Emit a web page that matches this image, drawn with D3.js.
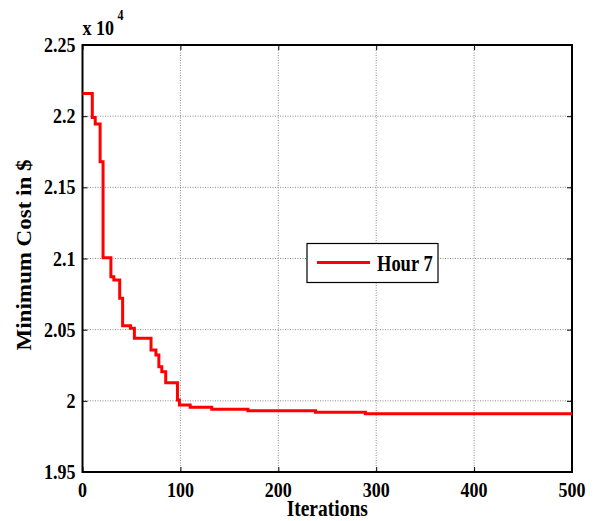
<!DOCTYPE html>
<html>
<head>
<meta charset="utf-8">
<script src="https://cdn.jsdelivr.net/npm/d3@7"></script>
<style>
  body { margin: 0; background: #fff; }
  svg text { font-family: "Liberation Serif", "Times New Roman", serif; font-weight: bold; fill: #000; }
</style>
</head>
<body>
<div id="chart"></div>
<script>
// best cost per iteration (step changes only)
var iterations = [0, 10, 13, 18, 21, 29, 32, 38, 41, 49, 53, 70, 75, 78, 81, 85, 97, 99, 110, 132, 169, 238, 289, 500];
var costs = [22160, 21990, 21945, 21680, 21005, 20872, 20849, 20720, 20528, 20510, 20439, 20357, 20322, 20240, 20205, 20127, 20006, 19971, 19955, 19941, 19931, 19920, 19910, 19910];
var xTicks = [0, 100, 200, 300, 400, 500];
var yTicks = [19500, 20000, 20500, 21000, 21500, 22000, 22500];
var yTickLabels = ["1.95", "2", "2.05", "2.1", "2.15", "2.2", "2.25"];
var seriesName = "Hour 7";

var width = 597, height = 521;
var pLeft = 82.5, pRight = 572, pTop = 45, pBottom = 472;
var sy = 1.15; // text in the source is a bit stretched vertically

var svg = d3.select("#chart").append("svg")
    .attr("width", width)
    .attr("height", height);

var x = d3.scaleLinear().domain([0, 500]).range([pLeft, pRight]);
var y = d3.scaleLinear().domain([19500, 22500]).range([pBottom, pTop]);

// dotted grid
var grid = svg.append("g").attr("class", "grid")
    .attr("stroke", "#8a8a8a").attr("stroke-width", 1).attr("stroke-dasharray", "1,1.5");
grid.selectAll(".gx").data(xTicks.slice(1, -1)).enter().append("line")
    .attr("x1", function(d){ return x(d); }).attr("x2", function(d){ return x(d); })
    .attr("y1", pTop).attr("y2", pBottom);
grid.selectAll(".gy").data(yTicks.slice(1, -1)).enter().append("line")
    .attr("x1", pLeft).attr("x2", pRight)
    .attr("y1", function(d){ return y(d); }).attr("y2", function(d){ return y(d); });

// inward ticks on all four sides
var xAxisB = d3.axisBottom(x).tickValues(xTicks).tickSizeInner(-5).tickSizeOuter(0).tickFormat("");
var xAxisT = d3.axisTop(x).tickValues(xTicks).tickSizeInner(-5).tickSizeOuter(0).tickFormat("");
var yAxisL = d3.axisLeft(y).tickValues(yTicks).tickSizeInner(-5).tickSizeOuter(0).tickFormat("");
var yAxisR = d3.axisRight(y).tickValues(yTicks).tickSizeInner(-5).tickSizeOuter(0).tickFormat("");
svg.append("g").attr("transform", "translate(0," + pBottom + ")").call(xAxisB);
svg.append("g").attr("transform", "translate(0," + pTop + ")").call(xAxisT);
svg.append("g").attr("transform", "translate(" + pLeft + ",0)").call(yAxisL);
svg.append("g").attr("transform", "translate(" + pRight + ",0)").call(yAxisR);
svg.selectAll(".domain").remove();
svg.selectAll(".tick line").attr("stroke", "#000").attr("stroke-width", 1);

// axes box
svg.append("rect")
    .attr("x", pLeft).attr("y", pTop)
    .attr("width", pRight - pLeft).attr("height", pBottom - pTop)
    .attr("fill", "none").attr("stroke", "#000").attr("stroke-width", 2);

function label(txt, px, py, size, anchor) {
  return svg.append("text")
      .attr("transform", "translate(" + px + "," + py + ") scale(1," + sy + ")")
      .attr("text-anchor", anchor)
      .style("font-size", size + "px")
      .text(txt);
}

xTicks.forEach(function(d){ label(d, x(d), 497, 18, "middle"); });
yTicks.forEach(function(d, i){ label(yTickLabels[i], pLeft - 7, y(d) + 7, 18, "end"); });

// exponent
label("x 10", pLeft, 35, 18, "start");
label("4", pLeft + 35, 20, 12, "start");

label("Iterations", (pLeft + pRight) / 2, 516, 19.5, "middle");

svg.append("text")
    .attr("transform", "translate(31,255) rotate(-90) scale(" + sy + ",1)")
    .attr("text-anchor", "middle")
    .style("font-size", "20px")
    .text("Minimum Cost in $");

// the series
var pts = iterations.map(function(d, i){ return [d, costs[i]]; });
var line = d3.line()
    .x(function(d){ return x(d[0]); })
    .y(function(d){ return y(d[1]); })
    .curve(d3.curveStepAfter);
svg.append("path")
    .datum(pts)
    .attr("d", line)
    .attr("fill", "none")
    .attr("stroke", "#ff0000")
    .attr("stroke-width", 3);

// legend
var lg = svg.append("g").attr("transform", "translate(307,243.5)");
lg.append("rect").attr("width", 131).attr("height", 39)
    .attr("fill", "#fff").attr("stroke", "#000").attr("stroke-width", 1.2);
lg.append("line").attr("x1", 10).attr("x2", 63).attr("y1", 19).attr("y2", 19)
    .attr("stroke", "#ff0000").attr("stroke-width", 3);
lg.append("text")
    .attr("transform", "translate(70,27) scale(1,1.3)")
    .style("font-size", "18.5px")
    .text(seriesName);
</script>
</body>
</html>
